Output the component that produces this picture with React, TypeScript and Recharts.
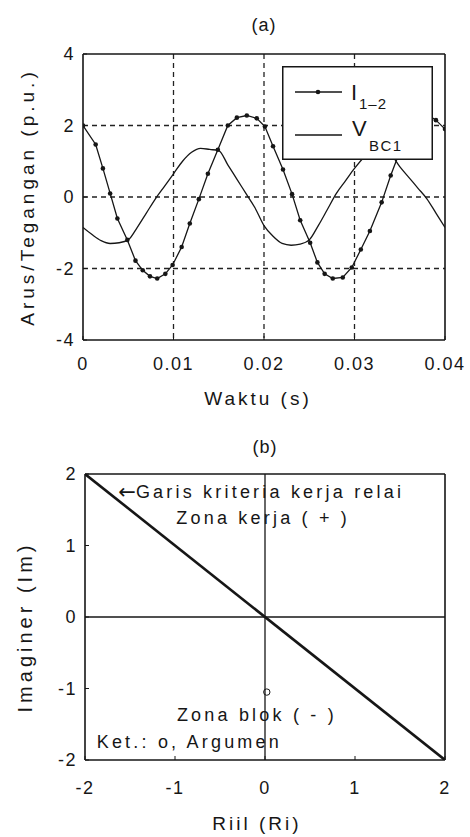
import React from 'react';
import {
  LineChart,
  ComposedChart,
  Line,
  Scatter,
  XAxis,
  YAxis,
  CartesianGrid,
  Legend,
  ReferenceLine,
  ReferenceDot,
} from 'recharts';

const FONT = '"Liberation Sans", Arial, Helvetica, sans-serif';
const INK = '#161616';

// ---------- Chart (a): current I(1-2) and voltage V(BC1) vs time ----------
const aXTicks = [0, 0.01, 0.02, 0.03, 0.04];
const aYTicks = [-4, -2, 0, 2, 4];
const aGridX = [0.01, 0.02, 0.03];
const aGridY = [-2, 0, 2];

const iTime = [
  0, 0.0014, 0.0022, 0.003, 0.0038, 0.0049, 0.0058, 0.0066, 0.0074, 0.0082,
  0.0091, 0.0099, 0.0109, 0.0118, 0.0128, 0.0138, 0.0149, 0.016, 0.017, 0.0181,
  0.0192, 0.0201, 0.021, 0.0221, 0.0231, 0.024, 0.0251, 0.0259, 0.0267, 0.0276,
  0.0287, 0.0297, 0.0307, 0.0317, 0.033, 0.034, 0.0349, 0.0358, 0.0367, 0.0376,
  0.0382, 0.039, 0.04,
];
const iValues = [
  2.0, 1.47, 0.8, 0.1, -0.6, -1.2, -1.78, -2.05, -2.22, -2.28,
  -2.15, -1.9, -1.4, -0.74, -0.06, 0.65, 1.32, 2.0, 2.22, 2.28,
  2.2, 1.97, 1.42, 0.77, 0.08, -0.65, -1.28, -1.83, -2.15, -2.28,
  -2.25, -1.97, -1.47, -0.95, -0.15, 0.6, 1.2, 1.8, 2.15, 2.3,
  2.28, 2.15, 1.9,
];

const vTime = [
  0, 0.001, 0.002, 0.003, 0.004, 0.005, 0.006, 0.007, 0.008, 0.009,
  0.01, 0.011, 0.012, 0.013, 0.014, 0.015, 0.016, 0.017, 0.018, 0.019,
  0.02, 0.021, 0.022, 0.023, 0.024, 0.025, 0.026, 0.027, 0.028, 0.029,
  0.03, 0.031, 0.032, 0.033, 0.034, 0.035, 0.036, 0.037, 0.038, 0.039,
  0.04,
];
const vValues = [
  -0.85, -1.05, -1.22, -1.3, -1.28, -1.2, -0.85, -0.45, -0.05, 0.3,
  0.65, 1.0, 1.25, 1.36, 1.33, 1.3, 0.9, 0.5, 0.1, -0.3,
  -0.8, -1.1, -1.3, -1.35, -1.32, -1.2, -0.8, -0.35, 0.1, 0.45,
  0.8, 1.1, 1.3, 1.35, 1.2, 0.85, 0.55, 0.25, -0.05, -0.45,
  -0.85,
];

const iSeries = iTime.map((t, k) => ({ t, v: iValues[k] }));
const vSeries = vTime.map((t, k) => ({ t, v: vValues[k] }));

// ---------- Chart (b): relay criterion in the complex plane ----------
const bTicks = [-2, -1, 0, 1, 2];
const critX = [-2, 2];
const critY = [2, -2];
const argX = [0.02];
const argY = [-1.05];
const critSeries = critX.map((x, k) => ({ x, y: critY[k] }));
const argSeries = argX.map((x, k) => ({ x, y: argY[k] }));

const notes = [
  { x: -1.63, y: 1.75, arrow: '\u2190', text: 'Garis kriteria kerja relai', anchor: 'start' },
  { x: -0.02, y: 1.38, arrow: '', text: 'Zona kerja ( + )', anchor: 'middle' },
  { x: -0.09, y: -1.37, arrow: '', text: 'Zona blok ( - )', anchor: 'middle' },
  { x: -1.87, y: -1.75, arrow: '', text: 'Ket.: o, Argumen', anchor: 'start' },
];

// ---------- helpers ----------
const tickStyle = { fontSize: 18, fill: INK, letterSpacing: 1.5, fontFamily: FONT };

const fmtTime = (v: number) => (v === 0 ? '0' : String(Number(v.toFixed(2))));

const HLabel = (props: any) => {
  const vb = props.viewBox || {};
  return (
    <text
      x={vb.x + vb.width / 2 + (props.dx || 0)}
      y={vb.y + (props.dy || 0)}
      textAnchor="middle"
      dominantBaseline="central"
      fontSize={props.size || 19}
      letterSpacing={props.ls ?? 3}
      fill={INK}
      fontFamily={FONT}
    >
      {props.text}
    </text>
  );
};

const VLabel = (props: any) => {
  const vb = props.viewBox || {};
  const x = props.px;
  const y = vb.y + vb.height / 2 + (props.dy || 0);
  return (
    <text
      x={x}
      y={y}
      transform={`rotate(-90 ${x} ${y})`}
      textAnchor="middle"
      dominantBaseline="central"
      fontSize={props.size || 19}
      letterSpacing={props.ls ?? 3.5}
      fill={INK}
      fontFamily={FONT}
    >
      {props.text}
    </text>
  );
};

const NoteLabel = (props: any) => {
  const vb = props.viewBox || {};
  return (
    <text
      x={vb.x + (vb.width || 0) / 2}
      y={vb.y + (vb.height || 0) / 2}
      textAnchor={props.anchor}
      dominantBaseline="central"
      fontSize={18}
      letterSpacing={3.2}
      fill={INK}
      fontFamily={FONT}
    >
      {props.arrow ? (
        <tspan fontFamily='"DejaVu Sans", sans-serif' fontSize={21} letterSpacing={0}>
          {props.arrow}
        </tspan>
      ) : null}
      <tspan>{props.text}</tspan>
    </text>
  );
};

const SmallDot = (props: any) => {
  const { cx, cy } = props;
  if (cx == null || cy == null) return null;
  return <circle cx={cx} cy={cy} r={2.3} fill={INK} stroke="none" />;
};

const Hollow = (props: any) => {
  const { cx, cy } = props;
  if (cx == null || cy == null) return null;
  return <circle cx={cx} cy={cy} r={3.2} fill="none" stroke={INK} strokeWidth={1} />;
};

const LegendBox = () => (
  <div style={{ width: 151, height: 94, background: '#fff' }}>
    <svg width={151} height={94} style={{ display: 'block' }}>
      <rect x={0.75} y={0.75} width={149.5} height={92.5} fill="#fff" stroke={INK} strokeWidth={1.5} />
      <line x1={13} y1={26} x2={60} y2={26} stroke={INK} strokeWidth={1.3} />
      <circle cx={36} cy={26} r={2.3} fill={INK} />
      <text x={69} y={34} fontSize={22} fill={INK} fontFamily={FONT}>
        I
      </text>
      <text x={77} y={43} fontSize={15} fill={INK} fontFamily={FONT} letterSpacing={1}>
        1–2
      </text>
      <line x1={13} y1={69} x2={60} y2={69} stroke={INK} strokeWidth={1.3} />
      <text x={70} y={70} fontSize={22} fill={INK} fontFamily={FONT}>
        V
      </text>
      <text x={87} y={85} fontSize={15} fill={INK} fontFamily={FONT} letterSpacing={1.5}>
        BC1
      </text>
    </svg>
  </div>
);

const ChartA = () => (
  <LineChart width={470} height={420} margin={{ top: 0, right: 0, bottom: 0, left: 0 }}>
    <CartesianGrid
      horizontal
      vertical
      horizontalValues={aGridY}
      verticalValues={aGridX}
      stroke="#222"
      strokeDasharray="5 4"
      strokeWidth={1.3}
    />
    <XAxis
      type="number"
      dataKey="t"
      domain={[0, 0.04]}
      ticks={aXTicks}
      tickFormatter={fmtTime}
      allowDataOverflow
      height={80}
      tickSize={-4}
      tickMargin={21}
      tick={tickStyle}
      axisLine={{ stroke: INK, strokeWidth: 1.6 }}
      tickLine={{ stroke: INK }}
      label={<HLabel text="Waktu (s)" dx={-6} dy={58} />}
    />
    <XAxis
      xAxisId="top"
      orientation="top"
      type="number"
      domain={[0, 0.04]}
      ticks={aXTicks}
      allowDataOverflow
      height={54}
      tickSize={-4}
      tick={false}
      axisLine={{ stroke: INK, strokeWidth: 1.6 }}
      tickLine={{ stroke: INK }}
      label={<HLabel text="(a)" dy={25} size={18} ls={1} />}
    />
    <YAxis
      type="number"
      domain={[-4, 4]}
      ticks={aYTicks}
      allowDataOverflow
      width={83}
      tickSize={-4}
      tickMargin={12}
      tick={tickStyle}
      axisLine={{ stroke: INK, strokeWidth: 1.6 }}
      tickLine={{ stroke: INK }}
      label={<VLabel text="Arus/Tegangan (p.u.)" px={27} dy={0} ls={4} />}
    />
    <YAxis
      yAxisId="right"
      orientation="right"
      type="number"
      domain={[-4, 4]}
      ticks={aYTicks}
      allowDataOverflow
      width={25}
      tickSize={-4}
      tick={false}
      axisLine={{ stroke: INK, strokeWidth: 1.6 }}
      tickLine={{ stroke: INK }}
    />
    <Line
      data={vSeries}
      dataKey="v"
      name="V_BC1"
      type="monotone"
      stroke={INK}
      strokeWidth={1.3}
      dot={false}
      activeDot={false}
      isAnimationActive={false}
    />
    <Line
      data={iSeries}
      dataKey="v"
      name="I_1-2"
      type="linear"
      stroke={INK}
      strokeWidth={1.3}
      dot={<SmallDot />}
      activeDot={false}
      isAnimationActive={false}
    />
    <Legend
      layout="horizontal"
      verticalAlign="middle"
      align="center"
      content={<LegendBox />}
      wrapperStyle={{ position: 'absolute', left: 282, top: 66, width: 151, height: 94, margin: 0 }}
    />
  </LineChart>
);

const ChartB = () => (
  <ComposedChart width={470} height={417} margin={{ top: 0, right: 0, bottom: 0, left: 0 }}>
    <XAxis
      type="number"
      dataKey="x"
      domain={[-2, 2]}
      ticks={bTicks}
      allowDataOverflow
      height={77}
      tickSize={-4}
      tickMargin={25}
      tick={tickStyle}
      axisLine={{ stroke: INK, strokeWidth: 1.6 }}
      tickLine={{ stroke: INK }}
      label={<HLabel text="Riil (Ri)" dx={-8} dy={63} />}
    />
    <XAxis
      xAxisId="top"
      orientation="top"
      type="number"
      domain={[-2, 2]}
      ticks={bTicks}
      allowDataOverflow
      height={54}
      tickSize={-4}
      tick={false}
      axisLine={{ stroke: INK, strokeWidth: 1.6 }}
      tickLine={{ stroke: INK }}
      label={<HLabel text="(b)" dy={27} size={18} ls={1} />}
    />
    <YAxis
      type="number"
      dataKey="y"
      domain={[-2, 2]}
      ticks={bTicks}
      allowDataOverflow
      width={85}
      tickSize={-4}
      tickMargin={12}
      tick={tickStyle}
      axisLine={{ stroke: INK, strokeWidth: 1.6 }}
      tickLine={{ stroke: INK }}
      label={<VLabel text="Imaginer (Im)" px={25} dy={10} size={20} ls={4} />}
    />
    <YAxis
      yAxisId="right"
      orientation="right"
      type="number"
      domain={[-2, 2]}
      ticks={bTicks}
      allowDataOverflow
      width={25}
      tickSize={-4}
      tick={false}
      axisLine={{ stroke: INK, strokeWidth: 1.6 }}
      tickLine={{ stroke: INK }}
    />
    <ReferenceLine x={0} stroke={INK} strokeWidth={1.3} />
    <ReferenceLine y={0} stroke={INK} strokeWidth={1.3} />
    <Line
      data={critSeries}
      dataKey="y"
      type="linear"
      stroke={INK}
      strokeWidth={2.6}
      dot={false}
      activeDot={false}
      isAnimationActive={false}
    />
    <Scatter data={argSeries} dataKey="y" shape={<Hollow />} isAnimationActive={false} />
    {notes.map((n) => (
      <ReferenceDot
        key={n.text}
        x={n.x}
        y={n.y}
        r={0}
        fill="none"
        stroke="none"
        label={<NoteLabel text={n.text} arrow={n.arrow} anchor={n.anchor} />}
      />
    ))}
  </ComposedChart>
);

export default function App() {
  return (
    <div
      style={{
        position: 'absolute',
        left: 0,
        top: 0,
        width: 470,
        height: 837,
        background: '#fff',
        fontFamily: FONT,
      }}
    >
      <div style={{ position: 'absolute', left: 0, top: 0, width: 470, height: 420 }}>
        <ChartA />
      </div>
      <div style={{ position: 'absolute', left: 0, top: 420, width: 470, height: 417 }}>
        <ChartB />
      </div>
    </div>
  );
}
